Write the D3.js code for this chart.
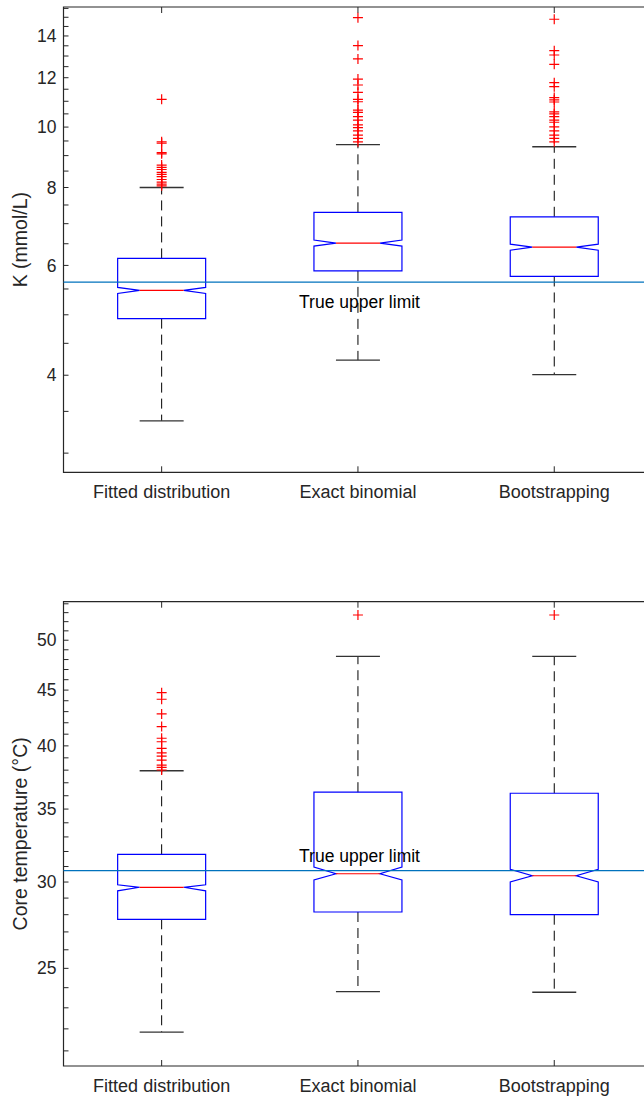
<!DOCTYPE html>
<html>
<head>
<meta charset="utf-8">
<script src="https://cdn.jsdelivr.net/npm/d3@7/dist/d3.min.js"></script>
<style>
  html, body { margin: 0; padding: 0; background: #fff; }
  svg { display: block; font-family: "Liberation Sans", Arial, Helvetica, sans-serif; }
</style>
</head>
<body>
<svg id="chart"></svg>
<script>
const categories = ["Fitted distribution", "Exact binomial", "Bootstrapping"];

// potassium panel
const kQ1 = [4.93, 5.88, 5.76];
const kQ3 = [6.157, 7.3, 7.18];
const kMedian = [5.47, 6.515, 6.42];
const kNotchLo = [5.41, 6.443, 6.348];
const kNotchHi = [5.531, 6.588, 6.491];
const kWhiskerLo = [3.38, 4.23, 4.01];
const kWhiskerHi = [8.0, 9.37, 9.3];
const kOutliers = [
  [11.08, 9.47, 9.42, 9.1, 9.06, 8.69, 8.62, 8.55, 8.46, 8.4, 8.33, 8.24, 8.16, 8.1, 8.05],
  [14.98, 13.51, 12.86, 11.94, 11.68, 11.37, 11.08, 10.98, 10.65, 10.56, 10.39, 10.26, 10.08, 9.98, 9.86, 9.71, 9.59, 9.47],
  [14.89, 13.26, 13.05, 12.61, 11.78, 11.61, 11.15, 11.06, 10.97, 10.58, 10.5, 10.39, 10.26, 10.18, 10.01, 9.86, 9.71, 9.59, 9.47]
];
const kTrueLimit = 5.64;
const kTicks = [4, 6, 8, 10, 12, 14];
const kMinorTicks = [3, 3.5, 4.5, 5, 5.5, 6.5, 7, 7.5, 8.5, 9, 9.5, 10.5, 11, 11.5, 12.5, 13, 13.5, 14.5, 15, 15.5];
const kDomain = [2.795, 15.58];

// core temperature panel
const tQ1 = [27.73, 28.16, 28.0];
const tQ3 = [31.81, 36.27, 36.19];
const tMedian = [29.67, 30.53, 30.4];
const tNotchLo = [29.45, 30.13, 30.0];
const tNotchHi = [29.83, 30.97, 30.82];
const tWhiskerLo = [21.85, 23.8, 23.77];
const tWhiskerHi = [37.95, 48.33, 48.33];
const tOutliers = [
  [44.76, 44.14, 42.79, 41.66, 40.65, 40.35, 39.79, 39.42, 39.15, 38.82, 38.41, 38.23, 38.01],
  [52.74],
  [52.74]
];
const tTrueLimit = 30.73;
const tTicks = [25, 30, 35, 40, 45, 50];
const tMinorTicks = [21, 22, 23, 24, 26, 27, 28, 29, 31, 32, 33, 34, 36, 37, 38, 39, 41, 42, 43, 44, 46, 47, 48, 49, 51, 52, 53, 54];
const tDomain = [20.34, 54.24];

const width = 644;
const height = 1097;
const axisColor = "#262626";

const svg = d3.select("#chart").attr("width", width).attr("height", height);

const x = d3.scaleLinear().domain([0.5, 3.5]).range([63.5, 652.4]);

const drawPanel = (p) => {
  const y = d3.scaleLog().domain(p.domain).range([p.bottom, p.top]);
  const g = svg.append("g");
  const boxHalf = 44;
  const indent = 22;

  // minor and major y ticks, pointing inward
  p.minor.concat(p.ticks).forEach((t) => {
    g.append("line")
      .attr("x1", x(0.5))
      .attr("x2", x(0.5) + 5)
      .attr("y1", y(t))
      .attr("y2", y(t))
      .attr("stroke", axisColor)
      .attr("stroke-width", 1);
  });

  g.selectAll(".ylabel")
    .data(p.ticks)
    .enter()
    .append("text")
    .attr("x", x(0.5) - 7)
    .attr("y", (d) => y(d))
    .attr("dy", "0.35em")
    .attr("text-anchor", "end")
    .attr("font-size", 17.5)
    .attr("fill", axisColor)
    .text((d) => d);

  // x ticks top and bottom
  categories.forEach((c, i) => {
    g.append("line")
      .attr("x1", x(i + 1)).attr("x2", x(i + 1))
      .attr("y1", p.bottom).attr("y2", p.bottom - 6)
      .attr("stroke", axisColor);
    g.append("line")
      .attr("x1", x(i + 1)).attr("x2", x(i + 1))
      .attr("y1", p.top).attr("y2", p.top + 6)
      .attr("stroke", axisColor);
    g.append("text")
      .attr("x", x(i + 1))
      .attr("y", p.bottom + 26)
      .attr("text-anchor", "middle")
      .attr("font-size", 18)
      .attr("fill", axisColor)
      .text(c);
  });

  // axis frame (right side runs off the page)
  g.append("path")
    .attr("d", `M${x(3.5)},${p.top} L${x(0.5)},${p.top} L${x(0.5)},${p.bottom} L${x(3.5)},${p.bottom}`)
    .attr("fill", "none")
    .attr("stroke", axisColor)
    .attr("stroke-width", 1.2);

  g.append("text")
    .attr("transform", `translate(20,${(p.top + p.bottom) / 2}) rotate(-90)`)
    .attr("text-anchor", "middle")
    .attr("dy", "0.35em")
    .attr("font-size", 19.5)
    .attr("fill", axisColor)
    .text(p.label);

  categories.forEach((c, i) => {
    const cx = x(i + 1);

    // whiskers
    g.append("line")
      .attr("x1", cx).attr("x2", cx)
      .attr("y1", y(p.q3[i])).attr("y2", y(p.whiskerHi[i]))
      .attr("stroke", "#000")
      .attr("stroke-width", 1)
      .attr("stroke-dasharray", "10,6");
    g.append("line")
      .attr("x1", cx).attr("x2", cx)
      .attr("y1", y(p.q1[i])).attr("y2", y(p.whiskerLo[i]))
      .attr("stroke", "#000")
      .attr("stroke-width", 1)
      .attr("stroke-dasharray", "10,6");
    [p.whiskerHi[i], p.whiskerLo[i]].forEach((v) => {
      g.append("line")
        .attr("x1", cx - indent).attr("x2", cx + indent)
        .attr("y1", y(v)).attr("y2", y(v))
        .attr("stroke", "#333")
        .attr("stroke-width", 1.3);
    });

    // notched box
    const l = cx - boxHalf;
    const r = cx + boxHalf;
    const path = [
      [l, y(p.q3[i])], [r, y(p.q3[i])], [r, y(p.notchHi[i])],
      [cx + indent, y(p.median[i])], [r, y(p.notchLo[i])], [r, y(p.q1[i])],
      [l, y(p.q1[i])], [l, y(p.notchLo[i])], [cx - indent, y(p.median[i])],
      [l, y(p.notchHi[i])]
    ];
    g.append("path")
      .attr("d", d3.line()(path) + "Z")
      .attr("fill", "none")
      .attr("stroke", "#0000ff")
      .attr("stroke-width", 1.2);

    g.append("line")
      .attr("x1", cx - indent).attr("x2", cx + indent)
      .attr("y1", y(p.median[i])).attr("y2", y(p.median[i]))
      .attr("stroke", "#ff0000")
      .attr("stroke-width", 1.2);

    // outliers as '+'
    p.outliers[i].forEach((v) => {
      g.append("path")
        .attr("d", `M${cx - 5},${y(v)} H${cx + 5} M${cx},${y(v) - 5} V${y(v) + 5}`)
        .attr("stroke", "#ff0000")
        .attr("stroke-width", 1.2)
        .attr("fill", "none");
    });
  });

  // true upper limit
  g.append("line")
    .attr("x1", x(0.5)).attr("x2", x(3.5))
    .attr("y1", y(p.trueLimit)).attr("y2", y(p.trueLimit))
    .attr("stroke", "#0072BD")
    .attr("stroke-width", 1.2);

  g.append("text")
    .attr("x", x(1.7))
    .attr("y", y(p.textY))
    .attr("font-size", 17.5)
    .attr("fill", "#000")
    .text("True upper limit");
};

drawPanel({
  top: 7, bottom: 472.3, domain: kDomain, ticks: kTicks, minor: kMinorTicks,
  q1: kQ1, q3: kQ3, median: kMedian, notchLo: kNotchLo, notchHi: kNotchHi,
  whiskerLo: kWhiskerLo, whiskerHi: kWhiskerHi, outliers: kOutliers,
  trueLimit: kTrueLimit, textY: 5.12, label: "K (mmol/L)"
});

drawPanel({
  top: 601.7, bottom: 1066, domain: tDomain, ticks: tTicks, minor: tMinorTicks,
  q1: tQ1, q3: tQ3, median: tMedian, notchLo: tNotchLo, notchHi: tNotchHi,
  whiskerLo: tWhiskerLo, whiskerHi: tWhiskerHi, outliers: tOutliers,
  trueLimit: tTrueLimit, textY: 31.32, label: "Core temperature (°C)"
});
</script>
</body>
</html>
